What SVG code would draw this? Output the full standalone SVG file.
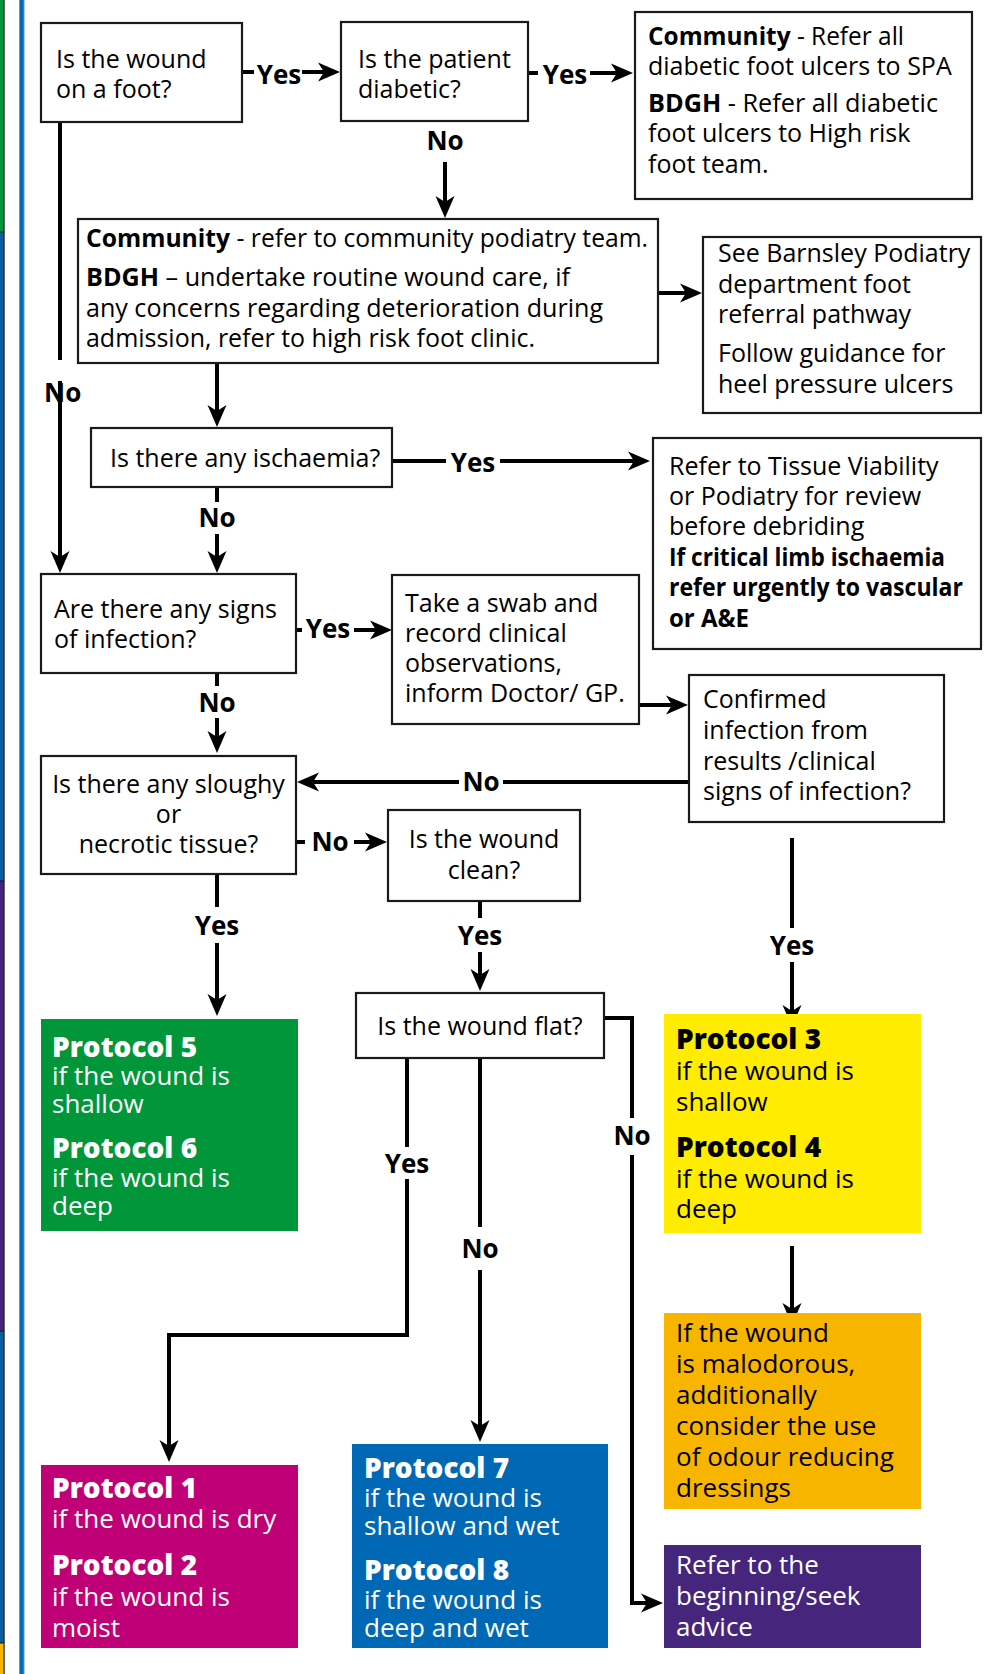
<svg xmlns="http://www.w3.org/2000/svg" width="985" height="1674" viewBox="0 0 985 1674">
<defs>
<marker id="ah" markerUnits="userSpaceOnUse" viewBox="-22 -10 22 20" refX="-8" refY="0" markerWidth="22" markerHeight="20" orient="auto"><path d="M0,0 L-22,-9.5 L-16,0 L-22,9.5 Z" fill="#000"/></marker>
</defs>
<style>
text{font-family:"Open Sans","Noto Sans","Liberation Sans",sans-serif}
.t{font-size:25px;fill:#000}
.b{font-weight:700}
.m{text-anchor:middle}
.lbl{font-size:26px;font-weight:700;fill:#000;text-anchor:middle}
.box{fill:#fff;stroke:#1a1a1a;stroke-width:2.2}
.c{fill:none;stroke:#000;stroke-width:4}
.a{marker-end:url(#ah)}
.pt{font-size:28px;font-weight:800;fill:#fff}
.pb{font-size:26px;fill:#fff}
.dk .pt,.dk .pb{fill:#000}
</style>
<g id="frame">
<rect x="0" y="0" width="4" height="232" fill="#009639"/>
<rect x="0" y="232" width="4" height="649" fill="#0a5d9e"/>
<rect x="0" y="881" width="4" height="450" fill="#45267c"/>
<rect x="0" y="1331" width="4" height="312" fill="#0a5d9e"/>
<rect x="0" y="1643" width="4" height="31" fill="#f8b500"/>
<rect x="0" y="231.5" width="4" height="1" fill="#111"/>
<rect x="0" y="880.5" width="4" height="1" fill="#111"/>
<rect x="0" y="1330.5" width="4" height="1" fill="#111"/>
<rect x="0" y="1642.5" width="4" height="1" fill="#111"/>
<rect x="3.5" y="0" width="1.2" height="1674" fill="#222"/>
<rect x="19" y="0" width="5.5" height="1674" fill="#5a9ad4"/>
<rect x="20" y="0" width="3.5" height="1674" fill="#0a68b6"/>
</g>
<g id="connectors">
<line class="c" x1="242" y1="72" x2="254" y2="72"/>
<line class="c a" x1="302" y1="72" x2="332" y2="72"/>
<text class="lbl" x="279" y="84">Yes</text>
<line class="c" x1="528" y1="73" x2="538" y2="73"/>
<line class="c a" x1="590" y1="73" x2="625" y2="73"/>
<text class="lbl" x="565" y="84">Yes</text>
<text class="lbl" x="445" y="150">No</text>
<line class="c a" x1="445" y1="162" x2="445" y2="210"/>
<line class="c" x1="60" y1="122" x2="60" y2="360"/>
<line class="c a" x1="60" y1="381" x2="60" y2="565"/>
<text class="lbl" x="44" y="402" style="text-anchor:start">No</text>
<line class="c a" x1="658" y1="293" x2="694" y2="293"/>
<line class="c a" x1="217" y1="363" x2="217" y2="419"/>
<line class="c" x1="392" y1="461" x2="446" y2="461"/>
<line class="c a" x1="500" y1="461" x2="642" y2="461"/>
<text class="lbl" x="473" y="472">Yes</text>
<line class="c" x1="217" y1="487" x2="217" y2="502"/>
<line class="c a" x1="217" y1="534" x2="217" y2="565"/>
<text class="lbl" x="217" y="527">No</text>
<line class="c" x1="296" y1="630" x2="302" y2="630"/>
<line class="c a" x1="354" y1="630" x2="384" y2="630"/>
<text class="lbl" x="328" y="638">Yes</text>
<line class="c a" x1="639" y1="705" x2="680" y2="705"/>
<line class="c" x1="689" y1="782" x2="503" y2="782"/>
<line class="c a" x1="459" y1="782" x2="305" y2="782"/>
<text class="lbl" x="481" y="791">No</text>
<line class="c" x1="217" y1="673" x2="217" y2="686"/>
<line class="c a" x1="217" y1="718" x2="217" y2="745"/>
<text class="lbl" x="217" y="712">No</text>
<line class="c" x1="296" y1="842" x2="305" y2="842"/>
<line class="c a" x1="354" y1="842" x2="379" y2="842"/>
<text class="lbl" x="330" y="851">No</text>
<line class="c" x1="217" y1="874" x2="217" y2="907"/>
<line class="c a" x1="217" y1="943" x2="217" y2="1008"/>
<text class="lbl" x="217" y="935">Yes</text>
<line class="c" x1="480" y1="901" x2="480" y2="918"/>
<line class="c a" x1="480" y1="952" x2="480" y2="983"/>
<text class="lbl" x="480" y="945">Yes</text>
<line class="c" x1="792" y1="838" x2="792" y2="928"/>
<line class="c a" x1="792" y1="962" x2="792" y2="1019"/>
<text class="lbl" x="792" y="955">Yes</text>
<line class="c a" x1="792" y1="1246" x2="792" y2="1317"/>
<line class="c" x1="407" y1="1058" x2="407" y2="1147"/>
<polyline class="c a" points="407,1179 407,1335 169,1335 169,1454"/>
<text class="lbl" x="407" y="1173">Yes</text>
<line class="c" x1="480" y1="1058" x2="480" y2="1227"/>
<line class="c a" x1="480" y1="1270" x2="480" y2="1434"/>
<text class="lbl" x="480" y="1258">No</text>
<polyline class="c" points="604,1018 632,1018 632,1118"/>
<polyline class="c a" points="632,1155 632,1603 655,1603"/>
<text class="lbl" x="632" y="1145">No</text>
</g>
<g id="nodeA">
<rect class="box" x="41" y="23" width="201" height="99"/>
<text class="t" x="56" y="68">Is the wound</text>
<text class="t" x="56" y="98">on a foot?</text>
</g>
<g id="nodeB">
<rect class="box" x="341" y="22" width="187" height="99"/>
<text class="t" x="358" y="68">Is the patient</text>
<text class="t" x="358" y="98">diabetic?</text>
</g>
<g id="nodeL">
<rect class="box" x="635" y="12" width="337" height="187"/>
<text class="t" x="648" y="45" textLength="256" lengthAdjust="spacingAndGlyphs"><tspan class="b">Community</tspan> - Refer all</text>
<text class="t" x="648" y="75">diabetic foot ulcers to SPA</text>
<text class="t" x="648" y="112" textLength="290" lengthAdjust="spacingAndGlyphs"><tspan class="b">BDGH</tspan> - Refer all diabetic</text>
<text class="t" x="648" y="142">foot ulcers to High risk</text>
<text class="t" x="648" y="173">foot team.</text>
</g>
<g id="nodeC">
<rect class="box" x="78" y="219" width="580" height="144"/>
<text class="t" x="86" y="247" textLength="562" lengthAdjust="spacingAndGlyphs"><tspan class="b">Community</tspan> - refer to community podiatry team.</text>
<text class="t" x="86" y="286" textLength="484" lengthAdjust="spacingAndGlyphs"><tspan class="b">BDGH</tspan> – undertake routine wound care, if</text>
<text class="t" x="86" y="317" textLength="517" lengthAdjust="spacingAndGlyphs">any concerns regarding deterioration during</text>
<text class="t" x="86" y="347" textLength="449" lengthAdjust="spacingAndGlyphs">admission, refer to high risk foot clinic.</text>
</g>
<g id="nodeM">
<rect class="box" x="703" y="237" width="278" height="176"/>
<text class="t" x="718" y="262">See Barnsley Podiatry</text>
<text class="t" x="718" y="293">department foot</text>
<text class="t" x="718" y="323">referral pathway</text>
<text class="t" x="718" y="362">Follow guidance for</text>
<text class="t" x="718" y="393">heel pressure ulcers</text>
</g>
<g id="nodeD">
<rect class="box" x="91" y="428" width="301" height="59"/>
<text class="t" x="110" y="467">Is there any ischaemia?</text>
</g>
<g id="nodeE">
<rect class="box" x="653" y="438" width="328" height="211"/>
<text class="t" x="669" y="475">Refer to Tissue Viability</text>
<text class="t" x="669" y="505">or Podiatry for review</text>
<text class="t" x="669" y="535">before debriding</text>
<text class="t b" x="669" y="566" textLength="276" lengthAdjust="spacingAndGlyphs">If critical limb ischaemia</text>
<text class="t b" x="669" y="596" textLength="294" lengthAdjust="spacingAndGlyphs">refer urgently to vascular</text>
<text class="t b" x="669" y="627" textLength="80" lengthAdjust="spacingAndGlyphs">or A&amp;E</text>
</g>
<g id="nodeF">
<rect class="box" x="41" y="574" width="255" height="99"/>
<text class="t" x="54" y="618">Are there any signs</text>
<text class="t" x="54" y="648">of infection?</text>
</g>
<g id="nodeG">
<rect class="box" x="392" y="575" width="247" height="149"/>
<text class="t" x="405" y="612">Take a swab and</text>
<text class="t" x="405" y="642">record clinical</text>
<text class="t" x="405" y="672">observations,</text>
<text class="t" x="405" y="702">inform Doctor/ GP.</text>
</g>
<g id="nodeH">
<rect class="box" x="689" y="675" width="255" height="147"/>
<text class="t" x="703" y="708">Confirmed</text>
<text class="t" x="703" y="739">infection from</text>
<text class="t" x="703" y="770">results /clinical</text>
<text class="t" x="703" y="800">signs of infection?</text>
</g>
<g id="nodeI">
<rect class="box" x="41" y="756" width="255" height="118"/>
<text class="t m" x="168.5" y="793">Is there any sloughy</text>
<text class="t m" x="168.5" y="823">or</text>
<text class="t m" x="168.5" y="853">necrotic tissue?</text>
</g>
<g id="nodeJ">
<rect class="box" x="388" y="810" width="192" height="91"/>
<text class="t m" x="484" y="848">Is the wound</text>
<text class="t m" x="484" y="879">clean?</text>
</g>
<g id="nodeK">
<rect class="box" x="356" y="993" width="248" height="65"/>
<text class="t m" x="480" y="1035">Is the wound flat?</text>
</g>
<g id="protocol56">
<rect x="41" y="1019" width="257" height="212" fill="#009639"/>
<text class="pt" x="52" y="1057">Protocol 5</text>
<text class="pb" x="52" y="1085">if the wound is</text>
<text class="pb" x="52" y="1113">shallow</text>
<text class="pt" x="52" y="1158">Protocol 6</text>
<text class="pb" x="52" y="1187">if the wound is</text>
<text class="pb" x="52" y="1215">deep</text>
</g>
<g id="protocol34" class="dk">
<rect x="664" y="1014" width="257" height="219" fill="#ffec00"/>
<text class="pt" x="676" y="1049">Protocol 3</text>
<text class="pb" x="676" y="1080">if the wound is</text>
<text class="pb" x="676" y="1111">shallow</text>
<text class="pt" x="676" y="1157">Protocol 4</text>
<text class="pb" x="676" y="1188">if the wound is</text>
<text class="pb" x="676" y="1218">deep</text>
</g>
<g id="odour" class="dk">
<rect x="664" y="1313" width="257" height="196" fill="#f8b500"/>
<text class="pb" x="676" y="1342">If the wound</text>
<text class="pb" x="676" y="1373">is malodorous,</text>
<text class="pb" x="676" y="1404">additionally</text>
<text class="pb" x="676" y="1435">consider the use</text>
<text class="pb" x="676" y="1466">of odour reducing</text>
<text class="pb" x="676" y="1497">dressings</text>
</g>
<g id="refer">
<rect x="664" y="1545" width="257" height="103" fill="#45267c"/>
<text class="pb" x="676" y="1574">Refer to the</text>
<text class="pb" x="676" y="1605">beginning/seek</text>
<text class="pb" x="676" y="1636">advice</text>
</g>
<g id="protocol12">
<rect x="41" y="1465" width="257" height="183" fill="#c00076"/>
<text class="pt" x="52" y="1498">Protocol 1</text>
<text class="pb" x="52" y="1528">if the wound is dry</text>
<text class="pt" x="52" y="1575">Protocol 2</text>
<text class="pb" x="52" y="1606">if the wound is</text>
<text class="pb" x="52" y="1637">moist</text>
</g>
<g id="protocol78">
<rect x="352" y="1444" width="256" height="204" fill="#0068b4"/>
<text class="pt" x="364" y="1478">Protocol 7</text>
<text class="pb" x="364" y="1507">if the wound is</text>
<text class="pb" x="364" y="1535">shallow and wet</text>
<text class="pt" x="364" y="1580">Protocol 8</text>
<text class="pb" x="364" y="1609">if the wound is</text>
<text class="pb" x="364" y="1637">deep and wet</text>
</g>
</svg>
